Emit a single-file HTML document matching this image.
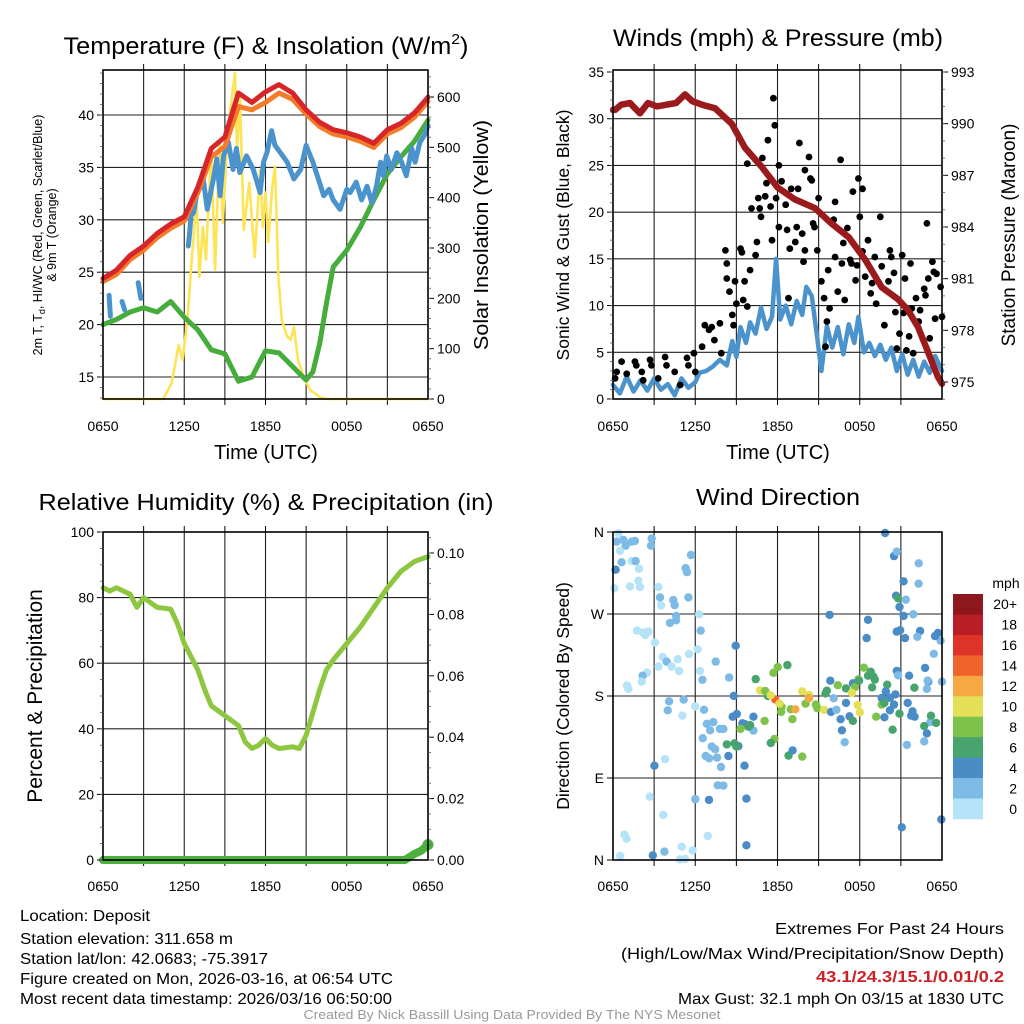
<!DOCTYPE html>
<html><head><meta charset="utf-8"><title>Deposit Meteogram</title>
<style>
html,body{margin:0;padding:0;background:#fff;}
svg{display:block;font-family:"Liberation Sans",sans-serif;}
</style></head>
<body>
<svg id="chart" width="1024" height="1024" viewBox="0 0 1024 1024" xmlns="http://www.w3.org/2000/svg">
<rect x="0" y="0" width="1024" height="1024" fill="#fff"/>
<text x="266" y="54" font-size="24" text-anchor="middle" textLength="405" lengthAdjust="spacingAndGlyphs">Temperature (F) &amp; Insolation (W/m<tspan font-size="15" dy="-10">2</tspan><tspan dy="10">)</tspan></text>
<text x="778" y="46" font-size="24" text-anchor="middle" textLength="330" lengthAdjust="spacingAndGlyphs">Winds (mph) &amp; Pressure (mb)</text>
<text x="266" y="510" font-size="23" text-anchor="middle" textLength="455" lengthAdjust="spacingAndGlyphs">Relative Humidity (%) &amp; Precipitation (in)</text>
<text x="778" y="505" font-size="23" text-anchor="middle" textLength="164" lengthAdjust="spacingAndGlyphs">Wind Direction</text>
<text transform="translate(42,235) rotate(-90)" font-size="12.5" text-anchor="middle">2m T, T<tspan font-size="9" dy="3">d</tspan><tspan dy="-3">, HI/WC (Red, Green, Scarlet/Blue)</tspan></text>
<text transform="translate(56,235) rotate(-90)" font-size="12.5" text-anchor="middle">&amp; 9m T (Orange)</text>
<text transform="translate(488,235) rotate(-90)" font-size="20" text-anchor="middle" textLength="230" lengthAdjust="spacingAndGlyphs">Solar Insolation (Yellow)</text>
<text transform="translate(569,235) rotate(-90)" font-size="17.5" text-anchor="middle">Sonic Wind &amp; Gust (Blue, Black)</text>
<text transform="translate(1015,235) rotate(-90)" font-size="19" text-anchor="middle">Station Pressure (Maroon)</text>
<text transform="translate(42,696) rotate(-90)" font-size="21" text-anchor="middle">Percent &amp; Precipitation</text>
<text transform="translate(569,696) rotate(-90)" font-size="17.5" text-anchor="middle">Direction (Colored By Speed)</text>
<text x="266" y="459" font-size="20" text-anchor="middle">Time (UTC)</text>
<text x="778" y="459" font-size="20" text-anchor="middle">Time (UTC)</text>
<g font-size="16">
<text x="20" y="921" textLength="130" lengthAdjust="spacingAndGlyphs">Location: Deposit</text>
<text x="20" y="944" textLength="213" lengthAdjust="spacingAndGlyphs">Station elevation: 311.658 m</text>
<text x="20" y="964" textLength="248" lengthAdjust="spacingAndGlyphs">Station lat/lon: 42.0683; -75.3917</text>
<text x="20" y="984" textLength="373" lengthAdjust="spacingAndGlyphs">Figure created on Mon, 2026-03-16, at 06:54 UTC</text>
<text x="20" y="1004" textLength="372" lengthAdjust="spacingAndGlyphs">Most recent data timestamp: 2026/03/16 06:50:00</text>
</g>
<g font-size="16" text-anchor="end">
<text x="1004" y="934" textLength="229" lengthAdjust="spacingAndGlyphs">Extremes For Past 24 Hours</text>
<text x="1004" y="959" textLength="383" lengthAdjust="spacingAndGlyphs">(High/Low/Max Wind/Precipitation/Snow Depth)</text>
<text x="1004" y="982" fill="#cc2027" font-weight="bold" textLength="188" lengthAdjust="spacingAndGlyphs">43.1/24.3/15.1/0.01/0.2</text>
<text x="1004" y="1004" textLength="326" lengthAdjust="spacingAndGlyphs">Max Gust: 32.1 mph On 03/15 at 1830 UTC</text>
</g>
<text x="512" y="1019" font-size="13" fill="#999" text-anchor="middle" textLength="417" lengthAdjust="spacingAndGlyphs">Created By Nick Bassill Using Data Provided By The NYS Mesonet</text>
</svg>
<script>
// ---------- DATA ----------
const timeTicks = ["0650","1250","1850","0050","0650"];
const tempHours = [0,1,2,3,4,5,6,7,8,9,10,11,12,13,14,15,16,17,18,19,20,21,22,23,24];
const temp2m = [24.4,25.2,26.6,27.5,28.7,29.6,30.3,33.1,36.8,37.9,42.1,41.2,42.2,42.9,42.1,40.5,39.3,38.6,38.3,37.9,37.3,38.6,39.2,40.2,41.7];
const temp9m = [24.1,24.8,26.2,27.1,28.3,29.2,29.9,32.6,36.0,37.0,40.8,40.5,41.2,42.1,41.5,40.1,38.9,38.2,37.9,37.5,36.9,38.2,38.8,39.8,41.3];
const dewHours = [0,1,2,3,4,5,6,7,8,9,10,11,12,13,14,15,15.5,16,16.5,17,18,19,20,21,22,23,24];
const dewpoint = [20.0,20.5,21.2,21.6,21.2,22.2,20.7,19.5,17.6,17.2,14.6,15.0,17.5,17.3,16.0,14.7,15.5,18.2,22.0,25.5,27.1,29.3,31.9,34.4,36.0,37.5,39.5];
const chillHours = [0.45,0.55,0.7,1.4,1.6,1.8,2.6,2.8,3.0,3.8,4.0,4.45,4.6,5.3,5.5,6.3,6.4,6.5,6.7,6.9,7.2,7.4,7.7,8.15,8.4,8.65,8.9,9.26,9.6,9.85,10.1,10.6,11.1,11.6,11.85,12.1,12.45,12.7,13.1,13.6,14.1,14.6,15.0,15.5,15.9,16.3,16.7,17.0,17.5,18.0,18.25,18.7,19.1,19.5,19.85,20.2,20.5,20.7,20.95,21.3,21.7,22.05,22.4,22.8,23.05,23.4,23.8,24];
const windChill = [22.8,20.8,null,22.2,21.4,null,24.0,22.5,null,24.8,null,25.1,null,26.1,null,27.5,28.8,30.4,30.7,32.3,33.2,33.9,31.0,33.9,35.8,32.3,36.1,37.4,34.8,36.8,34.5,36.1,34.8,32.6,35.5,36.4,38.5,37.1,36.4,35.5,33.9,34.8,37.1,35.5,33.9,32.3,32.9,31.9,31.0,32.9,32.6,33.6,31.9,33.2,31.6,33.2,35.5,34.2,36.1,34.8,36.4,35.5,34.2,36.8,35.5,37.4,38.2,39.0];
const solarHours = [0,4.45,5.07,5.58,5.88,6.23,6.55,6.92,7.12,7.37,7.6,7.99,8.28,8.6,8.85,9.14,9.4,9.75,9.9,10.1,10.4,10.8,11.2,11.6,11.8,12.0,12.2,12.5,12.7,12.95,13.2,13.6,13.85,14.1,14.4,14.8,15.3,16.0,16.5,24];
const solar = [0,0,32,107,78,157,277,396,243,342,277,495,257,509,350,495,575,648,489,609,336,430,282,455,342,410,312,421,462,243,157,124,118,143,78,44,18,4,0,0];
const tempTicks = [15,20,25,30,35,40];
const solarTicks = [0,100,200,300,400,500,600];

const windHours = [0,0.5,1,1.5,2,2.5,3,3.5,4,4.5,5,5.5,6,6.3,6.8,7.3,7.8,8.3,8.7,9.0,9.3,9.7,10.0,10.4,10.8,11.2,11.6,11.9,12.2,12.6,13.0,13.4,13.8,14.1,14.5,14.9,15.2,15.6,16.0,16.4,16.8,17.2,17.6,17.9,18.3,18.7,19.1,19.5,19.9,20.3,20.7,21.1,21.5,21.9,22.3,22.7,23.1,23.5,24];
const sonicWind = [1.5,0.6,2.4,0.8,2.0,0.9,2.2,1.0,1.6,0.4,2.2,1.2,1.8,2.8,3.0,3.5,4.2,3.6,6.2,4.5,7.7,6.0,8.2,7.0,9.8,7.5,8.8,15.0,8.5,10.0,8.0,10.5,9.0,12.0,11.0,6.5,3.0,7.8,5.5,7.7,4.8,8.0,6.0,8.8,5.0,6.0,4.6,5.8,4.2,5.5,3.0,4.8,2.6,4.2,2.4,4.0,2.8,4.6,3.0];
const gustHours = [0.15,0.27,0.63,1.0,1.6,1.7,2.1,2.2,2.7,2.8,3.3,3.8,3.9,4.5,4.9,5.4,5.5,5.9,6.0,6.5,6.7,7.0,7.2,7.4,7.8,7.9,8.2,8.3,8.3,8.5,8.7,8.8,8.9,9.0,9.3,9.4,9.5,9.6,9.8,9.8,10.0,10.1,10.4,10.5,10.6,10.7,10.8,10.9,11.1,11.2,11.3,11.5,11.6,11.7,11.8,11.9,12.1,12.1,12.3,12.6,12.7,12.8,12.9,13.0,13.3,13.4,13.5,13.6,13.8,13.9,14.0,14.0,14.3,14.4,14.5,14.6,14.7,14.9,15.0,15.2,15.4,15.5,15.6,15.7,15.8,16.1,16.2,16.2,16.4,16.6,16.7,16.8,16.9,17.1,17.3,17.4,17.5,17.7,17.8,17.9,18.0,18.2,18.2,18.4,18.6,18.8,18.9,19.1,19.2,19.5,19.6,19.8,20.1,20.2,20.3,20.5,20.6,20.7,20.9,21.1,21.2,21.3,21.4,21.6,21.7,21.8,21.9,22.1,22.3,22.4,22.7,22.8,22.9,23.0,23.1,23.3,23.4,23.5,23.6,23.9,24.0];
const gusts = [2.2,2.9,4.0,2.7,4.0,3.6,2.9,2.0,4.2,3.6,2.2,4.5,3.6,2.9,1.5,4.4,3.6,4.9,2.9,5.6,7.9,7.4,7.7,6.3,8.1,4.9,15.9,14.5,12.9,11.5,9.0,7.9,12.6,10.2,16.1,15.7,10.6,12.6,9.9,25.2,13.8,20.4,15.4,16.8,21.5,20.4,19.5,25.8,21.7,23.1,27.7,20.6,17.0,32.2,29.3,21.5,18.4,25.0,23.3,20.8,18.1,10.8,16.1,22.5,16.8,18.4,22.5,27.4,17.7,14.7,24.5,15.9,25.9,23.6,23.4,18.8,18.4,15.9,21.5,12.6,10.8,5.6,8.3,13.8,9.7,19.2,21.1,15.2,11.5,25.6,14.5,16.7,10.6,18.3,14.9,14.5,22.2,12.7,14.3,23.6,19.5,22.5,15.8,13.1,17.0,11.3,12.4,15.2,10.2,19.5,14.2,7.9,12.6,15.9,15.2,13.5,9.3,5.4,7.0,15.4,9.2,12.9,5.2,6.7,14.5,9.7,4.9,10.8,8.3,9.5,11.8,11.1,18.8,12.9,6.5,14.7,13.6,8.6,13.4,12.0,8.8];
const presHours = [0,0.15,0.6,1.24,1.6,1.97,2.55,3.2,3.9,4.6,5.25,5.8,6.5,7.44,8.66,9.63,10.84,12.0,13.27,14.73,15.95,17.2,18.4,19.6,20.8,21.5,22.25,23.0,23.7,24];
const pressure = [990.8,990.8,991.1,991.2,990.9,990.6,991.2,991.0,991.1,991.2,991.7,991.3,991.1,990.9,990.0,988.6,987.5,986.3,985.6,985.1,984.2,983.4,982.1,980.5,979.8,979.2,978.2,976.7,975.3,974.9];
const windTicks = [0,5,10,15,20,25,30,35];
const presTicks = [975,978,981,984,987,990,993];

const rhHours = [0,0.5,1,1.5,2,2.5,3,4,5,5.5,6,7,7.5,8,9,10,10.5,11,11.5,12,12.5,13,14,14.5,15,15.5,16,16.5,17,18,19,20,21,22,23,24];
const relHumidity = [83,82,83,82,81,77,80,77,76.5,72,66,58,52,47,44,41,36,34,35,37,35,34,34.5,34,38,45,52,58,61,66,71,77,83,88,91,92.5];
const precipHours = [0,22.3,23.0,23.5,24];
const precip = [0,0,0.002,0.003,0.005];
const rhTicks = [0,20,40,60,80,100];
const precipTicks = [0,0.02,0.04,0.06,0.08,0.10];
const precipTickLabels = ["0.00","0.02","0.04","0.06","0.08","0.10"];

const dirLabels = ["N","E","S","W","N"];
const dirTickValues = [0,90,180,270,360];
const speedBins = ["0","2","4","6","8","10","12","14","16","18","20+"];
const speedColors = ["#b5e3f7","#7dbbe6","#4a8cc6","#46a46c","#7dc24b","#e3df57","#f5a844","#f0632b","#dd3328","#b91d25","#8d171c"];
const dirHours = [0.4,0.76,0.27,0.92,1.36,1.6,2.82,2.77,0.51,0.63,1.36,1.65,0.19,1.9,1.85,1.24,1.97,0.1,3.31,5.69,5.3,5.4,3.43,3.5,4.4,5.5,4.5,4.6,4.6,4.16,6.28,6.4,1.75,2.34,2.21,2.58,3.06,3.62,3.92,3.31,4.72,4.28,4.82,5.55,6.18,6.35,6.52,2.48,2.16,2.09,1.12,1.02,4.09,3.99,5.16,5.06,5.99,6.64,6.84,7.32,7.8,8.05,7.08,6.55,7.2,7.45,6.76,7.01,7.59,7.88,3.02,3.8,8.95,7.49,8.47,8.81,9.03,8.73,9.44,9.61,10.24,10.24,9.15,8.42,9.59,7.64,8.05,9.73,7.0,6.0,2.68,3.67,0.99,5.01,5.81,0.83,0.53,2.9,3.75,5.26,4.89,9.73,6.91,10.41,11.7,12.02,12.72,10.73,11.3,11.83,12.3,11.1,11.5,12.14,12.26,12.97,13.09,10.0,9.88,9.3,11.06,11.78,11.51,8.3,8.86,9.0,12.8,13.1,13.8,14.05,14.3,14.3,14.3,13.3,13.8,14.8,14.9,15.4,15.6,15.5,15.85,16.1,15.9,16.3,16.6,16.7,16.9,16.4,17.0,17.25,17.5,17.9,17.5,17.0,17.65,17.95,17.43,17.85,18.0,19.2,19.0,18.6,18.3,18.8,19.1,18.9,19.6,20.0,20.6,20.2,19.9,19.6,19.8,20.2,20.5,20.9,19.8,20.4,20.65,20.8,20.9,21.2,15.8,18.5,18.6,19.85,20.5,22.3,21.2,22.29,21.36,20.7,22.4,23.7,21.9,20.7,20.95,21.3,23.9,23.4,23.5,22.2,20.7,20.8,22.77,24.0,21.6,23.0,22.0,21.85,22.9,23.15,23.57,21.99,21.5,22.95,23.2,22.7,22.9,22.7,21.75,23.95,21.07,21.44];
const dirValues = [358.6,351.3,349.4,345.0,349.4,350.2,352.9,345.0,339.2,326.7,328.1,328.1,318.6,319.7,306.5,300.3,299.6,298.2,299.6,334.8,320.4,316.0,288.2,279.4,285.3,288.2,279.8,267.8,263.1,260.2,269.7,251.8,251.8,247.0,249.6,250.7,238.6,222.9,217.8,212.3,220.4,212.3,207.4,226.1,231.3,207.4,197.8,205.7,202.3,195.7,187.8,191.5,174.2,164.3,176.0,158.5,168.5,164.9,149.5,151.3,143.9,143.9,142.4,133.7,124.6,121.6,114.2,111.6,112.4,102.1,103.5,110.7,235.2,217.8,200.3,180.1,160.2,157.3,150.0,149.2,157.3,142.0,125.0,114.2,103.5,82.0,81.7,67.4,66.0,66.8,69.5,49.5,23.4,14.6,10.6,27.8,4.4,5.1,9.2,1.1,0.7,16.1,26.4,198.6,205.5,211.7,213.9,186.2,180.0,176.3,168.1,185.5,180.8,171.7,162.5,165.4,154.5,148.1,146.3,143.9,152.7,132.9,128.4,126.9,128.1,124.6,114.6,120.3,113.5,171.7,177.5,181.3,177.8,165.4,185.1,170.6,166.6,164.9,185.8,182.9,196.8,177.5,162.5,164.9,154.5,142.4,129.3,191.9,172.4,157.7,152.7,198.3,193.9,188.3,189.8,196.8,183.5,170.2,162.1,157.3,201.2,202.3,211.1,206.7,198.0,189.4,170.6,192.4,181.8,178.0,185.1,177.8,172.4,164.3,170.6,160.6,156.6,143.0,290.1,287.2,277.7,267.9,269.0,243.6,263.6,358.9,333.6,325.6,305.9,303.3,285.7,338.5,251.3,249.2,269.7,250.7,252.2,243.6,240.7,226.3,245.7,245.0,207.5,202.7,210.8,195.7,202.3,195.7,157.3,163.2,187.8,151.3,150.5,189.1,172.4,196.8,158.4,147.0,139.0,130.2,158.5,44.5,35.9,126.3,113.5,138.4,185.5,170.0];
const dirSpeeds = [0,1,1,1,1,1,1,1,0,1,0,1,2,0,0,0,0,0,0,1,1,1,1,0,1,1,1,1,1,1,0,1,0,0,0,0,0,0,1,0,0,0,0,0,0,0,1,0,1,0,0,0,1,1,1,0,0,1,1,1,1,1,1,1,1,1,1,1,1,1,2,0,2,1,1,2,2,2,2,2,2,1,2,2,2,1,1,2,2,1,0,0,0,0,0,0,0,2,1,0,0,2,0,3,4,4,3,5,3,7,4,4,5,5,4,4,4,3,3,4,4,4,3,3,3,3,3,2,4,4,5,5,6,6,5,4,4,5,3,3,2,1,2,1,2,2,1,4,2,2,3,4,2,3,4,3,5,5,5,4,3,3,4,3,3,3,4,3,2,2,2,2,3,2,2,3,2,3,2,3,2,2,2,2,2,2,2,1,2,1,1,1,2,2,1,2,2,2,1,1,2,1,2,1,2,1,2,2,2,2,1,1,3,3,2,1,3,3,2,1,2,2,2,1,3,1,2];

// ---------- DRAWING ----------
const NS = "http://www.w3.org/2000/svg";
const svg = document.getElementById('chart');
function mk(tag, attrs, parent) {
  const e = document.createElementNS(NS, tag);
  for (const k in attrs) e.setAttribute(k, attrs[k]);
  (parent || svg).appendChild(e);
  return e;
}
function pathD(xs, ys, sx, sy) {
  let d = '', pen = false;
  for (let i = 0; i < xs.length; i++) {
    if (ys[i] === null || ys[i] === undefined) { pen = false; continue; }
    d += (pen ? 'L' : 'M') + sx(xs[i]).toFixed(1) + ',' + sy(ys[i]).toFixed(1);
    pen = true;
  }
  return d;
}
function linScale(d0, d1, r0, r1) { return v => r0 + (v - d0) * (r1 - r0) / (d1 - d0); }

function frame(name, L, T, R, B, hGridYs) {
  const g = mk('g', {});
  
  
  for (let k = 1; k < 8; k++) {
    const x = L + (R - L) * k / 8;
    const ln = mk('line', {x1: x, y1: T, x2: x, y2: B, stroke: '#222', 'stroke-width': 1.1}, g);
    
    
    const t1 = mk('line', {x1: x, y1: T - 6, x2: x, y2: T, stroke: '#000', 'stroke-width': 1}, g);
    
    
    const t2 = mk('line', {x1: x, y1: B, x2: x, y2: B + 6, stroke: '#000', 'stroke-width': 1}, g);
    
    
  }
  hGridYs.forEach(y => {
    const ln = mk('line', {x1: L, y1: y, x2: R, y2: y, stroke: '#222', 'stroke-width': 1.1}, g);
    
    
  });
  return g;
}
function border(name, L, T, R, B) {
  const r = mk('rect', {x: L, y: T, width: R - L, height: B - T, fill: 'none', stroke: '#000', 'stroke-width': 1.6});
  
  
}
function xLabels(name, L, R, y) {
  timeTicks.forEach((lab, i) => {
    const t = mk('text', {x: L + (R - L) * i / 4, y: y, 'font-size': 14, 'text-anchor': 'middle'});
    t.textContent = lab;
    
    
  });
}
function yAxis(name, vals, labels, sy, x, side, minorStep, lo, hi) {
  vals.forEach((v, i) => {
    const y = sy(v);
    const tk = mk('line', {x1: x, y1: y, x2: x + (side === 'left' ? -6 : 6), y2: y, stroke: '#000', 'stroke-width': 1});
    
    
    const t = mk('text', {x: side === 'left' ? x - 9 : x + 9, y: y + 5, 'font-size': 14, 'text-anchor': side === 'left' ? 'end' : 'start'});
    t.textContent = labels[i];
    
    
  });
  if (minorStep) {
    for (let v = lo; v <= hi + 1e-9; v += minorStep) {
      const y = sy(v);
      const tk = mk('line', {x1: x, y1: y, x2: x + (side === 'left' ? -3 : 3), y2: y, stroke: '#555', 'stroke-width': 0.8});
      
      
    }
  }
}
function series(name, xs, ys, sx, sy, color, w) {
  const p = mk('path', {d: pathD(xs, ys, sx, sy), fill: 'none', stroke: color, 'stroke-width': w, 'stroke-linejoin': 'round', 'stroke-linecap': 'round'});
  
  
  return p;
}

// ---- Panel 1: temperature ----
(function () {
  const L = 103, T = 70, R = 428, B = 399;
  const sx = linScale(0, 24, L, R);
  const sy = linScale(15, 40, 377, 115);
  const sySol = linScale(0, 600, 399, 97);
  frame('temp', L, T, R, B, tempTicks.map(sy));
  series('solar-insolation-line', solarHours, solar, sx, sySol, '#fde456', 2.6);
  series('dewpoint-line', dewHours, dewpoint, sx, sy, '#46ad3c', 5);
  series('windchill-line', chillHours, windChill, sx, sy, '#4b93cc', 5);
  series('temp-9m-line', tempHours, temp9m, sx, sy, '#f47b2a', 5);
  series('temp-2m-line', tempHours, temp2m, sx, sy, '#d7262a', 5);
  border('temp', L, T, R, B);
  yAxis('temp-y', tempTicks, tempTicks.map(String), sy, L, 'left', 1, 13, 44);
  yAxis('solar-y', solarTicks, solarTicks.map(String), sySol, R, 'right', 20, 0, 640);
  xLabels('temp', L, R, 431);
})();

// ---- Panel 2: winds & pressure ----
(function () {
  const L = 613, T = 70, R = 942, B = 399;
  const sx = linScale(0, 24, L, R);
  const sy = linScale(0, 35, 399, 72);
  const syP = linScale(975, 993, 382, 72);
  frame('wind', L, T, R, B, windTicks.slice(1, -1).map(sy));
  series('sonic-wind-line', windHours, sonicWind, sx, sy, '#4b93cc', 4.5);
  const g = mk('g', {fill: '#000'});
  
  
  gustHours.forEach((h, i) => {
    const c = mk('circle', {cx: sx(h).toFixed(1), cy: sy(gusts[i]).toFixed(1), r: 3.4}, g);
    
    
  });
  series('pressure-line', presHours, pressure, sx, syP, '#9b1a1c', 6.5);
  border('wind', L, T, R, B);
  yAxis('wind-y', windTicks, windTicks.map(String), sy, L, 'left', 1, 0, 35);
  yAxis('pressure-y', presTicks, presTicks.map(String), syP, R, 'right', 1, 974, 993);
  xLabels('wind', L, R, 431);
})();

// ---- Panel 3: RH & precip ----
(function () {
  const L = 103, T = 532, R = 428, B = 860;
  const sx = linScale(0, 24, L, R);
  const sy = linScale(0, 100, 860, 532);
  const syP = linScale(0, 0.10, 860, 553);
  frame('rh', L, T, R, B, rhTicks.map(sy));
  series('relative-humidity-line', rhHours, relHumidity, sx, sy, '#8dc63f', 5);
  series('precipitation-line', precipHours, precip, sx, syP, '#4daf3c', 8);
  const last = precipHours.length - 1;
  const c = mk('circle', {cx: sx(precipHours[last]), cy: syP(precip[last]), r: 5.5, fill: '#4daf3c'});
  
  
  border('rh', L, T, R, B);
  yAxis('rh-y', rhTicks, rhTicks.map(String), sy, L, 'left', 5, 0, 100);
  yAxis('precip-y', precipTicks, precipTickLabels, syP, R, 'right', 0.005, 0, 0.105);
  xLabels('rh', L, R, 891);
})();

// ---- Panel 4: wind direction ----
(function () {
  const L = 613, T = 532, R = 942, B = 860;
  const sx = linScale(0, 24, L, R);
  const sy = linScale(0, 360, 860, 532);
  frame('direction', L, T, R, B, dirTickValues.map(sy));
  const g = mk('g', {});
  
  
  dirHours.forEach((h, i) => {
    const c = mk('circle', {cx: sx(h).toFixed(1), cy: sy(dirValues[i]).toFixed(1), r: 4.2, fill: speedColors[dirSpeeds[i]]}, g);
    
    
  });
  border('direction', L, T, R, B);
  yAxis('direction-y', dirTickValues, dirLabels, sy, L, 'left', 0, 0, 0);
  xLabels('direction', L, R, 891);
  // colorbar
  const cb = mk('g', {});
  
  
  const top = 594, bh = 225 / speedColors.length;
  const unit = mk('text', {x: 1006, y: 588, 'font-size': 14, 'text-anchor': 'middle'}, cb);
  unit.textContent = 'mph';
  
  
  for (let k = 0; k < speedColors.length; k++) {
    const idx = speedColors.length - 1 - k;
    const r = mk('rect', {x: 953, y: top + k * bh, width: 30, height: bh + 0.3, fill: speedColors[idx]}, cb);
    
    
    const t = mk('text', {x: 1017, y: top + k * bh + bh / 2 + 5, 'font-size': 14, 'text-anchor': 'end'}, cb);
    t.textContent = speedBins[idx];
    
    
  }
})();
</script>
</body></html>
